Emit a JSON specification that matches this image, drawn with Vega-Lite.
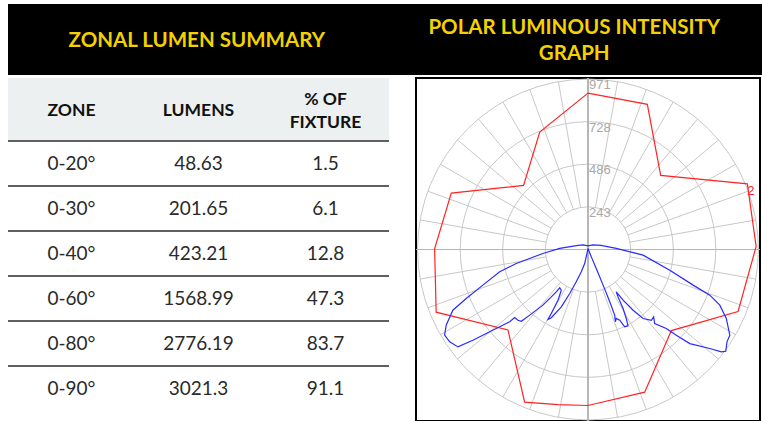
{
  "$schema": "https://vega.github.io/schema/vega-lite/v6.json",
  "background": "white",
  "padding": {"left": 7, "top": 4, "right": 0, "bottom": 0},
  "config": {"view": {"stroke": null}, "axis": {"disable": true}, "concat": {"spacing": 0}},
  "datasets": {
    "titles": [
      {"panel": "table", "lines": 1, "t": "ZONAL LUMEN SUMMARY"},
      {"panel": "polar", "lines": 2, "t": "POLAR LUMINOUS INTENSITY\nGRAPH"}
    ],
    "heads": [
      {"key": "zone", "lines": 1, "label": "ZONE"},
      {"key": "lumens", "lines": 1, "label": "LUMENS"},
      {"key": "pct", "lines": 2, "label": "% OF\nFIXTURE"}
    ],
    "zones": [
      {"zone": "0-20°", "lumens": 48.63, "pct": 1.5},
      {"zone": "0-30°", "lumens": 201.65, "pct": 6.1},
      {"zone": "0-40°", "lumens": 423.21, "pct": 12.8},
      {"zone": "0-60°", "lumens": 1568.99, "pct": 47.3},
      {"zone": "0-80°", "lumens": 2776.19, "pct": 83.7},
      {"zone": "0-90°", "lumens": 3021.3, "pct": 91.1}
    ],
    "rings": [{"r": 243}, {"r": 486}, {"r": 728}, {"r": 971}],
    "spokes": [
      {"x": 42.2, "y": 239.3, "x2": 168.6, "y2": 956.3},
      {"x": 83.1, "y": 228.3, "x2": 332.1, "y2": 912.4},
      {"x": 121.5, "y": 210.4, "x2": 485.5, "y2": 840.9},
      {"x": 156.2, "y": 186.1, "x2": 624.2, "y2": 743.8},
      {"x": 186.1, "y": 156.2, "x2": 743.8, "y2": 624.2},
      {"x": 210.4, "y": 121.5, "x2": 840.9, "y2": 485.5},
      {"x": 228.3, "y": 83.1, "x2": 912.4, "y2": 332.1},
      {"x": 239.3, "y": 42.2, "x2": 956.3, "y2": 168.6},
      {"x": 42.2, "y": -239.3, "x2": 168.6, "y2": -956.3},
      {"x": 83.1, "y": -228.3, "x2": 332.1, "y2": -912.4},
      {"x": 121.5, "y": -210.4, "x2": 485.5, "y2": -840.9},
      {"x": 156.2, "y": -186.1, "x2": 624.2, "y2": -743.8},
      {"x": 186.1, "y": -156.2, "x2": 743.8, "y2": -624.2},
      {"x": 210.4, "y": -121.5, "x2": 840.9, "y2": -485.5},
      {"x": 228.3, "y": -83.1, "x2": 912.4, "y2": -332.1},
      {"x": 239.3, "y": -42.2, "x2": 956.3, "y2": -168.6},
      {"x": -42.2, "y": 239.3, "x2": -168.6, "y2": 956.3},
      {"x": -83.1, "y": 228.3, "x2": -332.1, "y2": 912.4},
      {"x": -121.5, "y": 210.4, "x2": -485.5, "y2": 840.9},
      {"x": -156.2, "y": 186.1, "x2": -624.2, "y2": 743.8},
      {"x": -186.1, "y": 156.2, "x2": -743.8, "y2": 624.2},
      {"x": -210.4, "y": 121.5, "x2": -840.9, "y2": 485.5},
      {"x": -228.3, "y": 83.1, "x2": -912.4, "y2": 332.1},
      {"x": -239.3, "y": 42.2, "x2": -956.3, "y2": 168.6},
      {"x": -42.2, "y": -239.3, "x2": -168.6, "y2": -956.3},
      {"x": -83.1, "y": -228.3, "x2": -332.1, "y2": -912.4},
      {"x": -121.5, "y": -210.4, "x2": -485.5, "y2": -840.9},
      {"x": -156.2, "y": -186.1, "x2": -624.2, "y2": -743.8},
      {"x": -186.1, "y": -156.2, "x2": -743.8, "y2": -624.2},
      {"x": -210.4, "y": -121.5, "x2": -840.9, "y2": -485.5},
      {"x": -228.3, "y": -83.1, "x2": -912.4, "y2": -332.1},
      {"x": -239.3, "y": -42.2, "x2": -956.3, "y2": -168.6}
    ],
    "red": [
      {"i": 0, "x": 0, "y": 891}, {"i": 1, "x": 338, "y": 827}, {"i": 2, "x": 414, "y": 422},
      {"i": 3, "x": 908, "y": 374}, {"i": 4, "x": 958, "y": 17}, {"i": 5, "x": 855, "y": -353},
      {"i": 6, "x": 475, "y": -462}, {"i": 7, "x": 323, "y": -813}, {"i": 8, "x": 0, "y": -889},
      {"i": 9, "x": -171, "y": -884}, {"i": 10, "x": -361, "y": -870}, {"i": 11, "x": -456, "y": -458},
      {"i": 12, "x": -865, "y": -357}, {"i": 13, "x": -874, "y": 4}, {"i": 14, "x": -779, "y": 321},
      {"i": 15, "x": -367, "y": 365}, {"i": 16, "x": -275, "y": 669}, {"i": 17, "x": 0, "y": 891}
    ],
    "blue": [
      {"i": 0, "x": 0, "y": 6}, {"i": 1, "x": -6, "y": -23}, {"i": 2, "x": -19, "y": -80},
      {"i": 3, "x": -38, "y": -127}, {"i": 4, "x": -67, "y": -184}, {"i": 5, "x": -104, "y": -251},
      {"i": 6, "x": -152, "y": -327}, {"i": 7, "x": -209, "y": -389}, {"i": 8, "x": -228, "y": -399},
      {"i": 9, "x": -209, "y": -365}, {"i": 10, "x": -171, "y": -289}, {"i": 11, "x": -152, "y": -232},
      {"i": 12, "x": -161, "y": -218}, {"i": 13, "x": -181, "y": -241}, {"i": 14, "x": -209, "y": -270},
      {"i": 15, "x": -257, "y": -317}, {"i": 16, "x": -332, "y": -374}, {"i": 17, "x": -380, "y": -409},
      {"i": 18, "x": -399, "y": -403}, {"i": 19, "x": -418, "y": -388}, {"i": 20, "x": -446, "y": -412},
      {"i": 21, "x": -560, "y": -469}, {"i": 22, "x": -656, "y": -517}, {"i": 23, "x": -741, "y": -555},
      {"i": 24, "x": -788, "y": -526}, {"i": 25, "x": -817, "y": -488}, {"i": 26, "x": -808, "y": -431},
      {"i": 27, "x": -770, "y": -346}, {"i": 28, "x": -694, "y": -279}, {"i": 29, "x": -599, "y": -203},
      {"i": 30, "x": -503, "y": -127}, {"i": 31, "x": -409, "y": -80}, {"i": 32, "x": -257, "y": -23},
      {"i": 33, "x": -161, "y": 6}, {"i": 34, "x": -57, "y": 23}, {"i": 35, "x": -28, "y": 26},
      {"i": 36, "x": 0, "y": 21}, {"i": 37, "x": 28, "y": 26}, {"i": 38, "x": 74, "y": 23},
      {"i": 39, "x": 161, "y": 6}, {"i": 40, "x": 314, "y": -32}, {"i": 41, "x": 466, "y": -118},
      {"i": 42, "x": 599, "y": -203}, {"i": 43, "x": 694, "y": -260}, {"i": 44, "x": 751, "y": -317},
      {"i": 45, "x": 788, "y": -393}, {"i": 46, "x": 808, "y": -488}, {"i": 47, "x": 792, "y": -526},
      {"i": 48, "x": 785, "y": -580}, {"i": 49, "x": 760, "y": -583}, {"i": 50, "x": 694, "y": -564},
      {"i": 51, "x": 580, "y": -536}, {"i": 52, "x": 503, "y": -488}, {"i": 53, "x": 446, "y": -450},
      {"i": 54, "x": 380, "y": -422}, {"i": 55, "x": 374, "y": -384}, {"i": 56, "x": 361, "y": -403},
      {"i": 57, "x": 314, "y": -393}, {"i": 58, "x": 257, "y": -346}, {"i": 59, "x": 200, "y": -289},
      {"i": 60, "x": 161, "y": -241}, {"i": 61, "x": 171, "y": -270}, {"i": 62, "x": 200, "y": -336},
      {"i": 63, "x": 218, "y": -393}, {"i": 64, "x": 228, "y": -435}, {"i": 65, "x": 209, "y": -441},
      {"i": 66, "x": 181, "y": -403}, {"i": 67, "x": 161, "y": -393}, {"i": 68, "x": 156, "y": -412},
      {"i": 69, "x": 152, "y": -374}, {"i": 70, "x": 124, "y": -298}, {"i": 71, "x": 86, "y": -203},
      {"i": 72, "x": 47, "y": -108}, {"i": 73, "x": 19, "y": -42}, {"i": 74, "x": 0, "y": 6}
    ],
    "curveLabels": [{"x": 928, "y": 336, "t": "2"}]
  },
  "spacing": 1,
  "vconcat": [
    {
      "width": 755,
      "height": 71,
      "view": {"fill": "#000000"},
      "data": {"name": "titles"},
      "encoding": {
        "x": {"field": "panel", "type": "nominal", "axis": null, "sort": null, "scale": {"type": "band", "domain": ["table", "polar"], "paddingInner": 0, "paddingOuter": 0}},
        "text": {"field": "t", "type": "nominal"}
      },
      "layer": [
        {
          "transform": [{"filter": "datum.lines == 1"}],
          "mark": {"type": "text", "font": "Lato", "fontWeight": "bold", "fontSize": 20.5, "color": "#f3d200", "baseline": "middle", "align": "center", "dy": 1}
        },
        {
          "transform": [{"filter": "datum.lines == 2"}],
          "mark": {"type": "text", "font": "Lato", "fontWeight": "bold", "fontSize": 20.5, "color": "#f3d200", "lineBreak": "\n", "lineHeight": 26, "baseline": "middle", "align": "center", "dy": -12}
        }
      ]
    },
    {
      "spacing": 24,
      "hconcat": [
        {
          "spacing": 0,
          "vconcat": [
            {
              "width": 381,
              "height": 62,
              "view": {"fill": "#ecf0f0"},
              "data": {"name": "heads"},
              "encoding": {
                "x": {"field": "key", "type": "nominal", "axis": null, "sort": null, "scale": {"type": "point", "padding": 0.5, "domain": ["zone", "lumens", "pct"]}},
                "text": {"field": "label", "type": "nominal"}
              },
              "layer": [
                {
                  "transform": [{"filter": "datum.lines == 1"}],
                  "mark": {"type": "text", "font": "Lato", "fontWeight": "bold", "fontSize": 17.5, "color": "#111111", "baseline": "middle", "align": "center", "dy": 2}
                },
                {
                  "transform": [{"filter": "datum.lines == 2"}],
                  "mark": {"type": "text", "font": "Lato", "fontWeight": "bold", "fontSize": 17.5, "color": "#111111", "lineBreak": "\n", "lineHeight": 23, "baseline": "middle", "align": "center", "dy": -9}
                }
              ]
            },
            {
              "width": 381,
              "height": 270,
              "data": {"name": "zones"},
              "layer": [
                {
                  "mark": {"type": "rule", "color": "#2b2b2b", "strokeWidth": 1.5},
                  "encoding": {
                    "y": {"field": "zone", "type": "nominal", "axis": null, "sort": null, "bandPosition": 0, "scale": {"type": "band", "paddingInner": 0, "paddingOuter": 0}}
                  }
                },
                {
                  "transform": [{"fold": ["zone", "lumens", "pct"], "as": ["key", "value"]}],
                  "mark": {"type": "text", "font": "Lato", "fontSize": 19, "color": "#2a2a2a", "baseline": "middle", "align": "center"},
                  "encoding": {
                    "x": {"field": "key", "type": "nominal", "axis": null, "sort": null, "scale": {"type": "point", "padding": 0.5, "domain": ["zone", "lumens", "pct"]}},
                    "y": {"field": "zone", "type": "nominal", "axis": null, "sort": null, "scale": {"type": "band", "paddingInner": 0, "paddingOuter": 0}},
                    "text": {"field": "value", "type": "nominal"}
                  }
                }
              ]
            }
          ]
        },
        {
          "width": 344,
          "height": 343,
          "view": {"stroke": "#000000", "strokeWidth": 2, "fill": "white"},
          "layer": [
            {
              "data": {"name": "rings"},
              "mark": {"type": "point", "shape": "circle", "filled": false, "color": "#c8c8c8", "strokeWidth": 1, "opacity": 1},
              "encoding": {
                "x": {"datum": 0, "type": "quantitative", "axis": null, "scale": {"domain": [-980, 980], "nice": false, "zero": false}},
                "y": {"datum": 0, "type": "quantitative", "axis": null, "scale": {"domain": [-977.2, 977.2], "nice": false, "zero": false}},
                "size": {"field": "r", "type": "quantitative", "legend": null, "scale": {"type": "pow", "exponent": 2, "domain": [0, 980], "range": [0, 118336], "zero": true, "nice": false}}
              }
            },
            {
              "data": {"name": "spokes"},
              "mark": {"type": "rule", "color": "#c8c8c8", "strokeWidth": 1},
              "encoding": {
                "x": {"field": "x", "type": "quantitative", "axis": null, "scale": {"domain": [-980, 980], "nice": false, "zero": false}},
                "y": {"field": "y", "type": "quantitative", "axis": null, "scale": {"domain": [-977.2, 977.2], "nice": false, "zero": false}},
                "x2": {"field": "x2"},
                "y2": {"field": "y2"}
              }
            },
            {
              "data": {"name": "rings"},
              "mark": {"type": "rule", "color": "#b4b4b4", "strokeWidth": 1.2},
              "encoding": {
                "x": {"datum": 0, "type": "quantitative", "axis": null, "scale": {"domain": [-980, 980], "nice": false, "zero": false}}
              }
            },
            {
              "data": {"name": "rings"},
              "mark": {"type": "rule", "color": "#b4b4b4", "strokeWidth": 1.2},
              "encoding": {
                "y": {"datum": 0, "type": "quantitative", "axis": null, "scale": {"domain": [-977.2, 977.2], "nice": false, "zero": false}}
              }
            },
            {
              "data": {"name": "rings"},
              "mark": {"type": "text", "align": "left", "baseline": "top", "dx": 1, "dy": 0, "color": "#a8a8a8", "font": "Liberation Sans", "fontSize": 13},
              "encoding": {
                "x": {"datum": 0, "type": "quantitative", "axis": null, "scale": {"domain": [-980, 980], "nice": false, "zero": false}},
                "y": {"field": "r", "type": "quantitative", "axis": null, "scale": {"domain": [-977.2, 977.2], "nice": false, "zero": false}},
                "text": {"field": "r", "type": "nominal"}
              }
            },
            {
              "data": {"name": "red"},
              "mark": {"type": "line", "color": "#ff2424", "strokeWidth": 1.2},
              "encoding": {
                "x": {"field": "x", "type": "quantitative", "axis": null, "scale": {"domain": [-980, 980], "nice": false, "zero": false}},
                "y": {"field": "y", "type": "quantitative", "axis": null, "scale": {"domain": [-977.2, 977.2], "nice": false, "zero": false}},
                "order": {"field": "i", "type": "quantitative"}
              }
            },
            {
              "data": {"name": "blue"},
              "mark": {"type": "line", "color": "#2a2aff", "strokeWidth": 1.2},
              "encoding": {
                "x": {"field": "x", "type": "quantitative", "axis": null, "scale": {"domain": [-980, 980], "nice": false, "zero": false}},
                "y": {"field": "y", "type": "quantitative", "axis": null, "scale": {"domain": [-977.2, 977.2], "nice": false, "zero": false}},
                "order": {"field": "i", "type": "quantitative"}
              }
            },
            {
              "data": {"name": "curveLabels"},
              "mark": {"type": "text", "color": "#ff2424", "font": "Liberation Sans", "fontSize": 13, "align": "center", "baseline": "middle"},
              "encoding": {
                "x": {"field": "x", "type": "quantitative", "axis": null, "scale": {"domain": [-980, 980], "nice": false, "zero": false}},
                "y": {"field": "y", "type": "quantitative", "axis": null, "scale": {"domain": [-977.2, 977.2], "nice": false, "zero": false}},
                "text": {"field": "t", "type": "nominal"}
              }
            }
          ]
        }
      ]
    }
  ]
}
